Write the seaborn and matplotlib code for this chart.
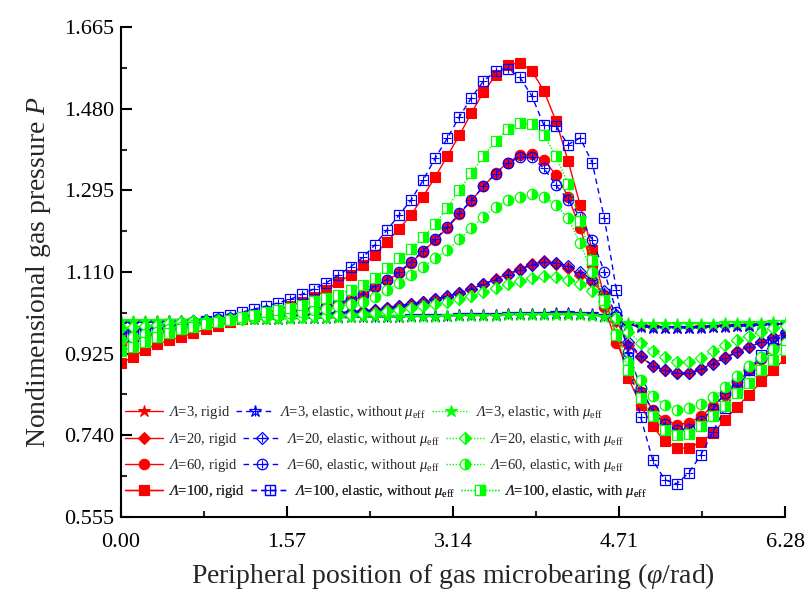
import numpy as np
import pandas as pd
import matplotlib
matplotlib.use("Agg")
import matplotlib.pyplot as plt
import seaborn as sns
from matplotlib.legend_handler import HandlerTuple
from matplotlib.ticker import MultipleLocator, FixedLocator

# ---------------- data ----------------
phi = [0.000, 0.114, 0.228, 0.343, 0.457, 0.571, 0.685, 0.800, 0.914, 1.028,
       1.142, 1.257, 1.371, 1.485, 1.599, 1.714, 1.828, 1.942, 2.056, 2.171,
       2.285, 2.399, 2.513, 2.628, 2.742, 2.856, 2.970, 3.084, 3.199, 3.313,
       3.427, 3.541, 3.656, 3.770, 3.884, 3.998, 4.113, 4.227, 4.341, 4.455,
       4.570, 4.684, 4.798, 4.912, 5.027, 5.141, 5.255, 5.369, 5.484, 5.598,
       5.712, 5.826, 5.940, 6.055, 6.169, 6.283]

# Lambda = 3
l3_rigid = [0.995, 0.996, 0.997, 0.998, 0.999, 1.000, 1.000, 1.001, 1.002, 1.002,
            1.003, 1.003, 1.004, 1.004, 1.005, 1.005, 1.006, 1.006, 1.007, 1.007,
            1.008, 1.008, 1.009, 1.009, 1.010, 1.010, 1.011, 1.011, 1.012, 1.012,
            1.013, 1.013, 1.014, 1.014, 1.015, 1.015, 1.015, 1.015, 1.014, 1.013,
            1.010, 1.000, 0.990, 0.987, 0.985, 0.984, 0.984, 0.984, 0.985, 0.986,
            0.987, 0.988, 0.989, 0.990, 0.991, 0.993]
l3_without = [0.994, 0.995, 0.996, 0.997, 0.998, 0.999, 1.000, 1.001, 1.001, 1.002,
              1.003, 1.003, 1.004, 1.004, 1.005, 1.005, 1.006, 1.006, 1.007, 1.007,
              1.008, 1.008, 1.009, 1.009, 1.010, 1.010, 1.011, 1.011, 1.012, 1.012,
              1.013, 1.013, 1.014, 1.014, 1.015, 1.015, 1.016, 1.016, 1.015, 1.014,
              1.011, 1.002, 0.990, 0.986, 0.984, 0.983, 0.983, 0.983, 0.984, 0.985,
              0.986, 0.987, 0.988, 0.989, 0.990, 0.992]
l3_with = [0.998, 0.998, 0.999, 0.999, 1.000, 1.000, 1.001, 1.001, 1.002, 1.002,
           1.003, 1.003, 1.004, 1.004, 1.004, 1.005, 1.005, 1.006, 1.006, 1.007,
           1.007, 1.007, 1.008, 1.008, 1.009, 1.009, 1.009, 1.010, 1.010, 1.011,
           1.011, 1.011, 1.012, 1.012, 1.012, 1.013, 1.013, 1.013, 1.012, 1.011,
           1.009, 1.002, 0.995, 0.993, 0.992, 0.992, 0.992, 0.992, 0.993, 0.993,
           0.994, 0.994, 0.995, 0.995, 0.996, 0.997]

# Lambda = 20
l20_rigid = [0.975, 0.980, 0.985, 0.989, 0.992, 0.995, 0.998, 1.000, 1.002, 1.004,
             1.005, 1.006, 1.008, 1.009, 1.010, 1.012, 1.013, 1.015, 1.017, 1.019,
             1.021, 1.024, 1.028, 1.032, 1.037, 1.042, 1.048, 1.054, 1.062, 1.072,
             1.083, 1.094, 1.106, 1.117, 1.128, 1.134, 1.128, 1.120, 1.104, 1.087,
             1.060, 1.000, 0.945, 0.918, 0.897, 0.888, 0.881, 0.881, 0.891, 0.903,
             0.917, 0.930, 0.941, 0.951, 0.961, 0.972]
l20_without = [0.978, 0.982, 0.986, 0.990, 0.993, 0.996, 0.999, 1.001, 1.003, 1.005,
               1.006, 1.008, 1.009, 1.010, 1.011, 1.013, 1.014, 1.016, 1.018, 1.020,
               1.022, 1.025, 1.029, 1.033, 1.038, 1.043, 1.049, 1.055, 1.063, 1.072,
               1.082, 1.093, 1.104, 1.115, 1.126, 1.132, 1.131, 1.124, 1.110, 1.092,
               1.068, 1.012, 0.952, 0.920, 0.898, 0.887, 0.880, 0.880, 0.889, 0.901,
               0.915, 0.928, 0.940, 0.951, 0.962, 0.973]
l20_with = [0.982, 0.985, 0.988, 0.991, 0.994, 0.996, 0.998, 1.000, 1.002, 1.003,
            1.004, 1.005, 1.006, 1.007, 1.008, 1.009, 1.010, 1.011, 1.012, 1.013,
            1.015, 1.018, 1.021, 1.025, 1.029, 1.033, 1.038, 1.043, 1.049, 1.056,
            1.064, 1.073, 1.082, 1.090, 1.097, 1.100, 1.098, 1.093, 1.083, 1.068,
            1.045, 1.005, 0.975, 0.949, 0.930, 0.918, 0.907, 0.907, 0.915, 0.930,
            0.945, 0.956, 0.966, 0.975, 0.982, 0.988]

# Lambda = 60
l60_rigid = [0.945, 0.955, 0.963, 0.971, 0.978, 0.984, 0.989, 0.994, 0.998, 1.002,
             1.005, 1.008, 1.010, 1.013, 1.017, 1.021, 1.025, 1.030, 1.036, 1.044,
             1.056, 1.075, 1.091, 1.107, 1.131, 1.156, 1.183, 1.209, 1.241, 1.272,
             1.304, 1.334, 1.358, 1.375, 1.377, 1.364, 1.330, 1.281, 1.209, 1.125,
             1.030, 0.950, 0.890, 0.839, 0.798, 0.775, 0.764, 0.768, 0.783, 0.806,
             0.832, 0.858, 0.888, 0.912, 0.935, 0.955]
l60_without = [0.972, 0.975, 0.980, 0.985, 0.989, 0.993, 0.997, 1.000, 1.003, 1.006,
               1.009, 1.012, 1.015, 1.018, 1.021, 1.025, 1.029, 1.034, 1.040, 1.048,
               1.060, 1.078, 1.093, 1.110, 1.133, 1.158, 1.184, 1.212, 1.243, 1.273,
               1.304, 1.333, 1.357, 1.370, 1.370, 1.345, 1.307, 1.273, 1.235, 1.183,
               1.111, 1.020, 0.929, 0.848, 0.795, 0.765, 0.752, 0.755, 0.772, 0.800,
               0.835, 0.862, 0.890, 0.916, 0.940, 0.962]
l60_with = [0.955, 0.962, 0.969, 0.975, 0.981, 0.986, 0.990, 0.994, 0.998, 1.001,
            1.004, 1.007, 1.010, 1.013, 1.016, 1.019, 1.023, 1.027, 1.032, 1.037,
            1.043, 1.054, 1.069, 1.084, 1.103, 1.122, 1.141, 1.160, 1.184, 1.209,
            1.235, 1.258, 1.273, 1.281, 1.288, 1.281, 1.262, 1.232, 1.175, 1.110,
            1.040, 0.970, 0.905, 0.866, 0.828, 0.809, 0.798, 0.801, 0.811, 0.826,
            0.850, 0.875, 0.898, 0.918, 0.935, 0.950]

# Lambda = 100
l100_rigid = [0.903, 0.918, 0.934, 0.947, 0.955, 0.963, 0.972, 0.980, 0.988, 0.996,
              1.004, 1.011, 1.018, 1.024, 1.033, 1.043, 1.054, 1.069, 1.088, 1.103,
              1.126, 1.149, 1.178, 1.208, 1.239, 1.281, 1.325, 1.373, 1.420, 1.471,
              1.518, 1.556, 1.579, 1.585, 1.566, 1.521, 1.452, 1.362, 1.262, 1.160,
              1.054, 0.965, 0.869, 0.809, 0.760, 0.726, 0.711, 0.711, 0.725, 0.745,
              0.775, 0.805, 0.832, 0.862, 0.888, 0.915]
l100_without = [0.962, 0.958, 0.966, 0.975, 0.983, 0.987, 0.994, 1.000, 1.007, 1.013,
                1.019, 1.026, 1.033, 1.040, 1.048, 1.060, 1.072, 1.086, 1.103, 1.122,
                1.143, 1.171, 1.205, 1.239, 1.273, 1.318, 1.368, 1.413, 1.462, 1.505,
                1.543, 1.565, 1.571, 1.552, 1.509, 1.443, 1.440, 1.399, 1.414, 1.358,
                1.232, 1.069, 0.915, 0.782, 0.684, 0.639, 0.630, 0.655, 0.696, 0.748,
                0.802, 0.843, 0.888, 0.922, 0.949, 0.968]
l100_with = [0.930, 0.941, 0.952, 0.963, 0.972, 0.980, 0.986, 0.992, 0.996, 1.001,
             1.007, 1.013, 1.019, 1.024, 1.029, 1.036, 1.044, 1.051, 1.059, 1.069,
             1.081, 1.097, 1.118, 1.141, 1.162, 1.189, 1.220, 1.255, 1.296, 1.334,
             1.373, 1.408, 1.434, 1.448, 1.445, 1.420, 1.373, 1.309, 1.226, 1.137,
             1.047, 0.968, 0.888, 0.824, 0.783, 0.752, 0.741, 0.743, 0.760, 0.783,
             0.807, 0.836, 0.858, 0.888, 0.911, 0.934]

lambdas = ["3", "20", "60", "100"]
rigid = [l3_rigid, l20_rigid, l60_rigid, l100_rigid]
without = [l3_without, l20_without, l60_without, l100_without]
withmu = [l3_with, l20_with, l60_with, l100_with]

x_ticks = [0.00, 1.57, 3.14, 4.71, 6.28]
x_ticklabels = ["0.00", "1.57", "3.14", "4.71", "6.28"]
y_ticks = [0.555, 0.740, 0.925, 1.110, 1.295, 1.480, 1.665]
y_ticklabels = ["0.555", "0.740", "0.925", "1.110", "1.295", "1.480", "1.665"]

# ---------------- style ----------------
sns.set_theme(style="ticks")
plt.rcParams["font.family"] = ["Liberation Serif", "DejaVu Serif"]
plt.rcParams["mathtext.fontset"] = "custom"
plt.rcParams["mathtext.rm"] = "Liberation Serif"
plt.rcParams["mathtext.it"] = "Liberation Serif:italic"
plt.rcParams["mathtext.sf"] = "Liberation Serif:italic"
plt.rcParams["mathtext.bf"] = "Liberation Serif:bold"

RED = "#FF0000"
BLUE = "#0000FF"
GREEN = "#00FF00"

markers = ["*", "D", "o", "s"]
msizes = [9, 6.5, 7.5, 7]

fig = plt.figure(figsize=(8.07, 5.92), dpi=100)
ax = fig.add_axes([0.150, 0.127, 0.823, 0.827])

h_rigid, h_without, h_with = [], [], []

for k, lam in enumerate(lambdas):
    sns.lineplot(x=phi, y=rigid[k], ax=ax, color=RED, linestyle="-", linewidth=1.0,
                 marker=markers[k], markersize=msizes[k], markerfacecolor=RED,
                 markeredgecolor=RED, markeredgewidth=0.8, sort=False, legend=False)
    h_rigid.append(ax.lines[-1])

for k, lam in enumerate(lambdas):
    sns.lineplot(x=phi, y=without[k], ax=ax, color=BLUE, linestyle=(0, (4, 3)), linewidth=1.0,
                 marker=markers[k], markersize=msizes[k], markerfacecolor="none",
                 markeredgecolor=BLUE, markeredgewidth=0.9, sort=False, legend=False)
    ln = ax.lines[-1]
    sns.lineplot(x=phi, y=without[k], ax=ax, color=BLUE, linestyle="none",
                 marker="+", markersize=msizes[k] * 0.85, markeredgecolor=BLUE,
                 markeredgewidth=0.8, sort=False, legend=False)
    h_without.append((ln, ax.lines[-1]))

for k, lam in enumerate(lambdas):
    if markers[k] == "*":
        fkw = dict(markerfacecolor=GREEN)
    else:
        fkw = dict(fillstyle="right", markerfacecolor=GREEN, markerfacecoloralt="white")
    sns.lineplot(x=phi, y=withmu[k], ax=ax, color=GREEN, linestyle=(0, (1, 1.2)), linewidth=1.0,
                 marker=markers[k], markersize=msizes[k], markeredgecolor=GREEN,
                 markeredgewidth=0.9, sort=False, legend=False, **fkw)
    h_with.append(ax.lines[-1])

ax.set_xlim(0, 6.28)
ax.set_ylim(0.555, 1.665)
ax.xaxis.set_major_locator(FixedLocator(x_ticks))
ax.set_xticklabels(x_ticklabels)
ax.xaxis.set_minor_locator(MultipleLocator(0.785))
ax.yaxis.set_major_locator(FixedLocator(y_ticks))
ax.set_yticklabels(y_ticklabels)
ax.yaxis.set_minor_locator(MultipleLocator(0.0925))

for s in ["top", "right"]:
    ax.spines[s].set_visible(False)
for s in ["left", "bottom"]:
    ax.spines[s].set_linewidth(1.5)
    ax.spines[s].set_color("black")

ax.tick_params(axis="both", which="major", direction="in", length=8, width=1.5,
               labelsize=16, colors="black")
ax.tick_params(axis="y", which="major", pad=5)
ax.tick_params(axis="x", which="major", pad=12)
ax.tick_params(axis="both", which="minor", direction="in", length=4, width=1.5)

ax.set_xlabel(r"Peripheral position of gas microbearing ($\mathit{φ}$/rad)", fontsize=20, labelpad=6)
ax.set_ylabel(r"Nondimensional gas pressure $\mathit{P}$", fontsize=20, labelpad=8)

# legend: one row per Lambda, entries laid out like running text
row_y_px = [413, 440, 466, 492]
ax_bottom_px, ax_h_px = 517.0, 490.0
for k, lam in enumerate(lambdas):
    hs = [h_rigid[k], h_without[k], h_with[k]]
    ls = [r"$\mathsf{Λ}$=" + lam + ", rigid",
          r"$\mathsf{Λ}$=" + lam + r", elastic, without $\mu_{\rm eff}$",
          r"$\mathsf{Λ}$=" + lam + r", elastic, with $\mu_{\rm eff}$"]
    yy = (ax_bottom_px - row_y_px[k]) / ax_h_px
    leg = ax.legend(hs, ls, ncol=3, loc="center left", bbox_to_anchor=(0.006, yy),
                    frameon=False, fontsize=10.5, handlelength=2.6, handletextpad=0.35,
                    columnspacing=0.4, borderaxespad=0.0, borderpad=0.0,
                    handler_map={tuple: HandlerTuple(ndivide=1)})
    ax.add_artist(leg)

fig.savefig("out.png", dpi=100)
